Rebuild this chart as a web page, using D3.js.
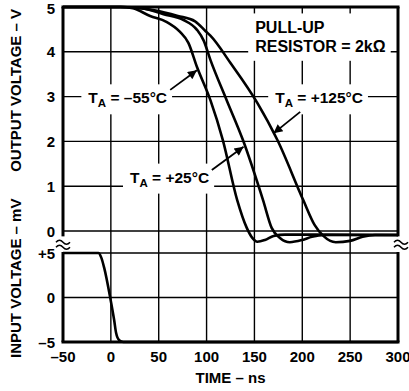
<!DOCTYPE html>
<html>
<head>
<meta charset="utf-8">
<script src="https://cdn.jsdelivr.net/npm/d3@7"></script>
<style>
  body { margin: 0; background: #fff; }
  text { font-family: "Liberation Sans", Arial, sans-serif; font-weight: bold; fill: #000; }
</style>
</head>
<body>
<svg id="viz" width="409" height="391"></svg>
<script>
// time axis (ns)
var timeTicks = [-50, 0, 50, 100, 150, 200, 250, 300];
var outTicks = [0, 1, 2, 3, 4, 5];
var inTicks = [-5, 0, 5];
var inTickLabels = ["\u20135", "0", "+5"];

// output voltage (V) vs time (ns)
var outM55 = [[-50, 5], [10, 5], [23, 4.97], [41, 4.8], [58, 4.67], [72, 4.45], [81, 4.2],
  [90, 3.66], [104, 2.92], [117, 2.03], [132, 0.69], [142, 0.07], [148, -0.16], [153, -0.24],
  [161, -0.2], [170, -0.11], [182, -0.08], [300, -0.09]];
var out25 = [[-50, 5], [10, 5], [34, 4.97], [55, 4.84], [76, 4.71], [90, 4.49], [97, 4.25],
  [104, 3.82], [121, 2.92], [138, 2.03], [159, 0.69], [168, 0.07], [177, -0.16], [187, -0.25],
  [200, -0.2], [210, -0.13], [224, -0.09], [300, -0.09]];
var out125 = [[-50, 5], [10, 5], [44, 4.93], [70, 4.8], [88, 4.68], [99, 4.46], [104, 4.36],
  [125, 3.75], [153, 2.86], [174, 2.03], [201, 0.69], [213, 0.13], [222, -0.11], [235, -0.25],
  [250, -0.22], [263, -0.13], [276, -0.09], [300, -0.09]];
// input voltage (mV) vs time
var inputV = [[-50, 5], [-13, 5], [-10, 4.48], [-7, 3.35], [-0.7, 0], [3.4, -2.5], [5.5, -4],
  [8.7, -4.8], [13, -5], [300, -5]];

var svg = d3.select("#viz");
var pLeft = 63, pRight = 398, pTop = 7, pBottom = 342;

var x = d3.scaleLinear().domain([-50, 300]).range([pLeft, pRight]);
var yOut = d3.scaleLinear().domain([0, 5]).range([231, pTop]);
var yIn = d3.scaleLinear().domain([-5, 5]).range([pBottom, 253]);

var grid = svg.append("g").attr("stroke", "#000").attr("stroke-width", 1.4);

// vertical grid
grid.selectAll(".vg")
  .data(timeTicks.slice(1, -1))
  .enter()
  .append("line")
  .attr("x1", function (d) { return x(d); })
  .attr("x2", function (d) { return x(d); })
  .attr("y1", pTop)
  .attr("y2", pBottom);

// horizontal grid, output
grid.selectAll(".hgo")
  .data(outTicks.slice(0, -1))
  .enter()
  .append("line")
  .attr("x1", pLeft)
  .attr("x2", pRight)
  .attr("y1", function (d) { return yOut(d); })
  .attr("y2", function (d) { return yOut(d); });

// horizontal grid, input
grid.selectAll(".hgi")
  .data(inTicks.slice(1))
  .enter()
  .append("line")
  .attr("x1", pLeft)
  .attr("x2", pRight)
  .attr("y1", function (d) { return yIn(d); })
  .attr("y2", function (d) { return yIn(d); });

// labels with white boxes that cut the grid
var labels = svg.append("g");

function addTA(t, v, rest) {
  var g = labels.append("g");
  var txt = g.append("text")
    .attr("x", x(t))
    .attr("y", yOut(v))
    .style("font-size", "15.5px");
  txt.append("tspan").text("T");
  txt.append("tspan").attr("dy", 4).style("font-size", "11.5px").text("A");
  txt.append("tspan").attr("dy", -4).text(" = " + rest);
  var b = txt.node().getBBox();
  g.insert("rect", "text")
    .attr("x", b.x - 7)
    .attr("y", b.y - 5)
    .attr("width", b.width + 12)
    .attr("height", b.height + 10)
    .attr("fill", "#fff");
}

addTA(-23.5, 2.85, "\u201355\u00b0C");
addTA(171.7, 2.85, "+125\u00b0C");
addTA(20, 1.08, "+25\u00b0C");

var pull = labels.append("g");
var pullText = pull.append("text")
  .attr("x", x(150.8))
  .attr("y", yOut(4.41))
  .style("font-size", "16px");
pullText.append("tspan").text("PULL-UP");
pullText.append("tspan")
  .attr("x", x(150.8))
  .attr("y", yOut(4.0))
  .text("RESISTOR = 2k\u03a9");
var pb = pullText.node().getBBox();
pull.insert("rect", "text")
  .attr("x", pb.x - 7)
  .attr("y", pb.y - 6)
  .attr("width", pb.width + 12)
  .attr("height", pb.height + 12)
  .attr("fill", "#fff");

// arrows
svg.append("defs")
  .append("marker")
  .attr("id", "head")
  .attr("viewBox", "0 0 10 10")
  .attr("refX", 10)
  .attr("refY", 5)
  .attr("markerWidth", 14)
  .attr("markerHeight", 9)
  .attr("markerUnits", "userSpaceOnUse")
  .attr("orient", "auto")
  .append("path")
  .attr("d", "M0,0 L10,5 L0,10 Z")
  .attr("fill", "#000");

var arrows = [
  [62, 3.15, 89.9, 3.59],
  [197.8, 2.66, 169.9, 2.18],
  [105.5, 1.36, 138.6, 1.88]
];
svg.selectAll(".arrow")
  .data(arrows)
  .enter()
  .append("line")
  .attr("x1", function (d) { return x(d[0]); })
  .attr("y1", function (d) { return yOut(d[1]); })
  .attr("x2", function (d) { return x(d[2]); })
  .attr("y2", function (d) { return yOut(d[3]); })
  .attr("stroke", "#000")
  .attr("stroke-width", 1.8)
  .attr("marker-end", "url(#head)");

// curves
var lineOut = d3.line()
  .x(function (d) { return x(d[0]); })
  .y(function (d) { return yOut(d[1]); })
  .curve(d3.curveMonotoneX);
var lineIn = d3.line()
  .x(function (d) { return x(d[0]); })
  .y(function (d) { return yIn(d[1]); })
  .curve(d3.curveMonotoneX);

svg.selectAll(".curve")
  .data([outM55, out25, out125])
  .enter()
  .append("path")
  .attr("fill", "none")
  .attr("stroke", "#000")
  .attr("stroke-width", 2.6)
  .attr("d", lineOut);

svg.append("path")
  .attr("fill", "none")
  .attr("stroke", "#000")
  .attr("stroke-width", 2.6)
  .attr("d", lineIn(inputV));

// frame
var frame = svg.append("g").attr("stroke", "#000").attr("stroke-width", 3).attr("fill", "none");
frame.append("line").attr("x1", pLeft - 1.5).attr("x2", pRight + 1.5).attr("y1", pTop).attr("y2", pTop);
frame.append("line").attr("x1", pLeft - 1.5).attr("x2", pRight + 1.5).attr("y1", pBottom).attr("y2", pBottom);
var gapTop = yOut(-0.12), gapBot = yIn(5) - 1;
[pLeft, pRight].forEach(function (px) {
  frame.append("line").attr("x1", px).attr("x2", px).attr("y1", pTop).attr("y2", gapTop);
  frame.append("line").attr("x1", px).attr("x2", px).attr("y1", gapBot).attr("y2", pBottom);
});

// break marks
var midBreak = (gapTop + gapBot) / 2;
[pLeft, pRight + 3].forEach(function (px) {
  var g = svg.append("g").attr("transform", "translate(" + px + "," + midBreak + ")");
  g.append("path")
    .attr("d", "M-7,-2 q3.5,-4 7,0 t7,0 M-7,3 q3.5,-4 7,0 t7,0")
    .attr("fill", "none")
    .attr("stroke", "#000")
    .attr("stroke-width", 1.5);
});

// tick labels
svg.selectAll(".xl")
  .data(timeTicks)
  .enter()
  .append("text")
  .attr("x", function (d) { return x(d); })
  .attr("y", 362)
  .attr("text-anchor", "middle")
  .style("font-size", "15px")
  .text(function (d) { return d < 0 ? "\u2013" + (-d) : d; });

svg.selectAll(".yo")
  .data(outTicks)
  .enter()
  .append("text")
  .attr("x", 55)
  .attr("y", function (d) { return yOut(d) + (d === 5 ? 7 : 5.5); })
  .attr("text-anchor", "end")
  .style("font-size", "15px")
  .text(function (d) { return d; });

svg.selectAll(".yi")
  .data(inTicks)
  .enter()
  .append("text")
  .attr("x", 55)
  .attr("y", function (d) { return yIn(d) + 5.5; })
  .attr("text-anchor", "end")
  .style("font-size", "15px")
  .text(function (d, i) { return inTickLabels[i]; });

// axis titles
svg.append("text")
  .attr("x", (pLeft + pRight) / 2)
  .attr("y", 383)
  .attr("text-anchor", "middle")
  .style("font-size", "15px")
  .text("TIME \u2013 ns");

svg.append("text")
  .attr("transform", "translate(21,9) rotate(-90)")
  .attr("text-anchor", "end")
  .style("font-size", "15px")
  .text("OUTPUT VOLTAGE \u2013 V");

svg.append("text")
  .attr("transform", "translate(21,358) rotate(-90)")
  .attr("text-anchor", "start")
  .style("font-size", "15px")
  .text("INPUT VOLTAGE \u2013 mV");
</script>
</body>
</html>
